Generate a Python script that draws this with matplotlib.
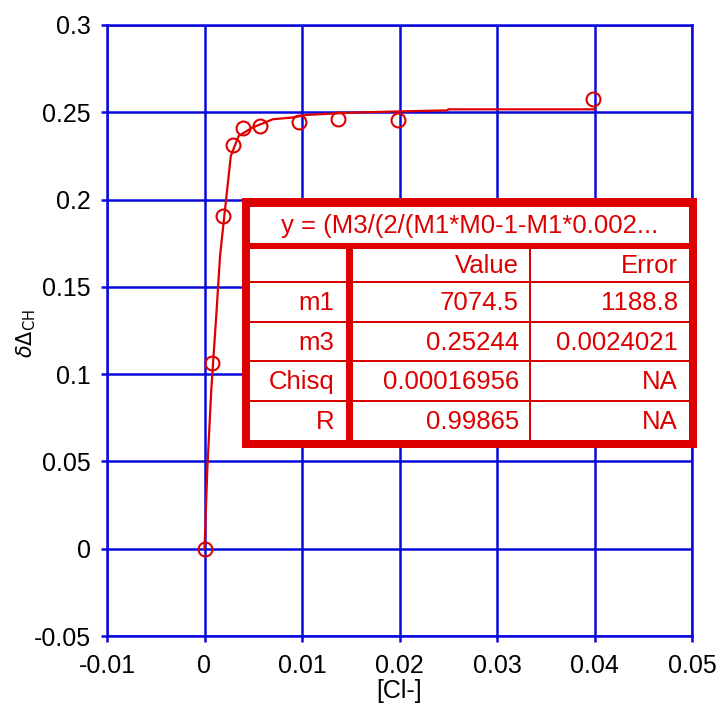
import matplotlib
matplotlib.use("Agg")
import matplotlib.pyplot as plt
from matplotlib.patches import Rectangle

# ---- data ----
conc = [0.0, 0.0008, 0.0019, 0.0029, 0.0039, 0.0057, 0.0097, 0.0137, 0.0198, 0.0398]
shift = [0.0, 0.1063, 0.1905, 0.231, 0.2412, 0.2422, 0.2447, 0.246, 0.2456, 0.2574]

fit_x = [0.0, 0.0003, 0.0007, 0.0012, 0.0016, 0.002, 0.0027, 0.0035, 0.0049, 0.007,
         0.009, 0.0105, 0.015, 0.02, 0.0249, 0.025, 0.03, 0.04]
fit_y = [0.0, 0.047, 0.0915, 0.133, 0.168, 0.189, 0.225, 0.2364, 0.2412, 0.246,
         0.247, 0.2485, 0.2498, 0.2505, 0.2511, 0.2517, 0.2517, 0.2517]

x_ticks = [-0.01, 0, 0.01, 0.02, 0.03, 0.04, 0.05]
x_ticklabels = ["-0.01", "0", "0.01", "0.02", "0.03", "0.04", "0.05"]
y_ticks = [-0.05, 0, 0.05, 0.1, 0.15, 0.2, 0.25, 0.3]
y_ticklabels = ["-0.05", "0", "0.05", "0.1", "0.15", "0.2", "0.25", "0.3"]

fit_title = "y = (M3/(2/(M1*M0-1-M1*0.002..."
col_headers = ["", "Value", "Error"]
row_names = ["m1", "m3", "Chisq", "R"]
row_values = ["7074.5", "0.25244", "0.00016956", "0.99865"]
row_errors = ["1188.8", "0.0024021", "NA", "NA"]

RED = "#DD0000"
BLUE = "#0A0ADC"
FONT = "Liberation Sans"

W, H = 718, 709
fig = plt.figure(figsize=(W / 100, H / 100), dpi=100)
plt.rcParams["font.family"] = [FONT, "DejaVu Sans"]

L, R, T, B = 107, 692, 25, 636
ax = fig.add_axes([L / W, 1 - B / H, (R - L) / W, (B - T) / H])
ax.set_xlim(-0.01, 0.05)
ax.set_ylim(-0.05, 0.3)
ax.set_xticks(x_ticks)
ax.set_xticklabels(x_ticklabels)
ax.set_yticks(y_ticks)
ax.set_yticklabels(y_ticklabels)
ax.grid(True, color=BLUE, linewidth=1.8)
ax.set_axisbelow(True)
for s in ax.spines.values():
    s.set_color(BLUE)
    s.set_linewidth(1.8)
ax.tick_params(axis="both", colors=BLUE, length=4, width=1.8, direction="out",
               labelsize=18, labelcolor="black")
ax.tick_params(axis="x", pad=9)
ax.tick_params(axis="y", pad=7.5)
for lab in ax.get_xticklabels() + ax.get_yticklabels():
    lab.set_fontfamily(FONT)

ax.plot(fit_x, fit_y, color=RED, linewidth=1.6, zorder=3)
ax.plot(conc, shift, linestyle="none", marker="o", markersize=10,
        markerfacecolor="none", markeredgecolor=RED, markeredgewidth=1.5, zorder=4)

ax.set_xlabel("[Cl-]", fontsize=18, fontfamily=FONT, labelpad=1)
fig.text(26 / W, 1 - 334 / H, r"$\delta\Delta_{\rm CH}$", rotation=90,
         fontsize=15, ha="center", va="center")

# ---- fit results table (overlay in pixel coords) ----
ov = fig.add_axes([0, 0, 1, 1], zorder=10)
ov.set_xlim(0, W)
ov.set_ylim(H, 0)
ov.axis("off")
ov.patch.set_alpha(0)

ov.add_patch(Rectangle((242, 198), 697 - 242, 448 - 198, facecolor=RED, edgecolor="none"))
ov.add_patch(Rectangle((250, 207), 689 - 250, 243 - 207, facecolor="white", edgecolor="none"))
rows_y = [(249, 281), (283, 321), (323, 360), (362, 400), (402, 440)]
cols_x = [(250, 346), (353, 529), (531, 689)]
for (y0, y1) in rows_y:
    for (x0, x1) in cols_x:
        ov.add_patch(Rectangle((x0, y0), x1 - x0, y1 - y0, facecolor="white", edgecolor="none"))

fs = 18.5
ov.text(470, 226, fit_title, color=RED, fontsize=fs, ha="center", va="center", fontfamily=FONT)
right_edges = [334, 519, 678]
yc = [(a + b) / 2 + 1 for a, b in rows_y]
for j, h in enumerate(col_headers):
    ov.text(right_edges[j], yc[0], h, color=RED, fontsize=fs, ha="right", va="center", fontfamily=FONT)
for i in range(len(row_names)):
    ov.text(right_edges[0], yc[i + 1], row_names[i], color=RED, fontsize=fs, ha="right", va="center", fontfamily=FONT)
    ov.text(right_edges[1], yc[i + 1], row_values[i], color=RED, fontsize=fs, ha="right", va="center", fontfamily=FONT)
    ov.text(right_edges[2], yc[i + 1], row_errors[i], color=RED, fontsize=fs, ha="right", va="center", fontfamily=FONT)

fig.savefig("out.png", dpi=100)
